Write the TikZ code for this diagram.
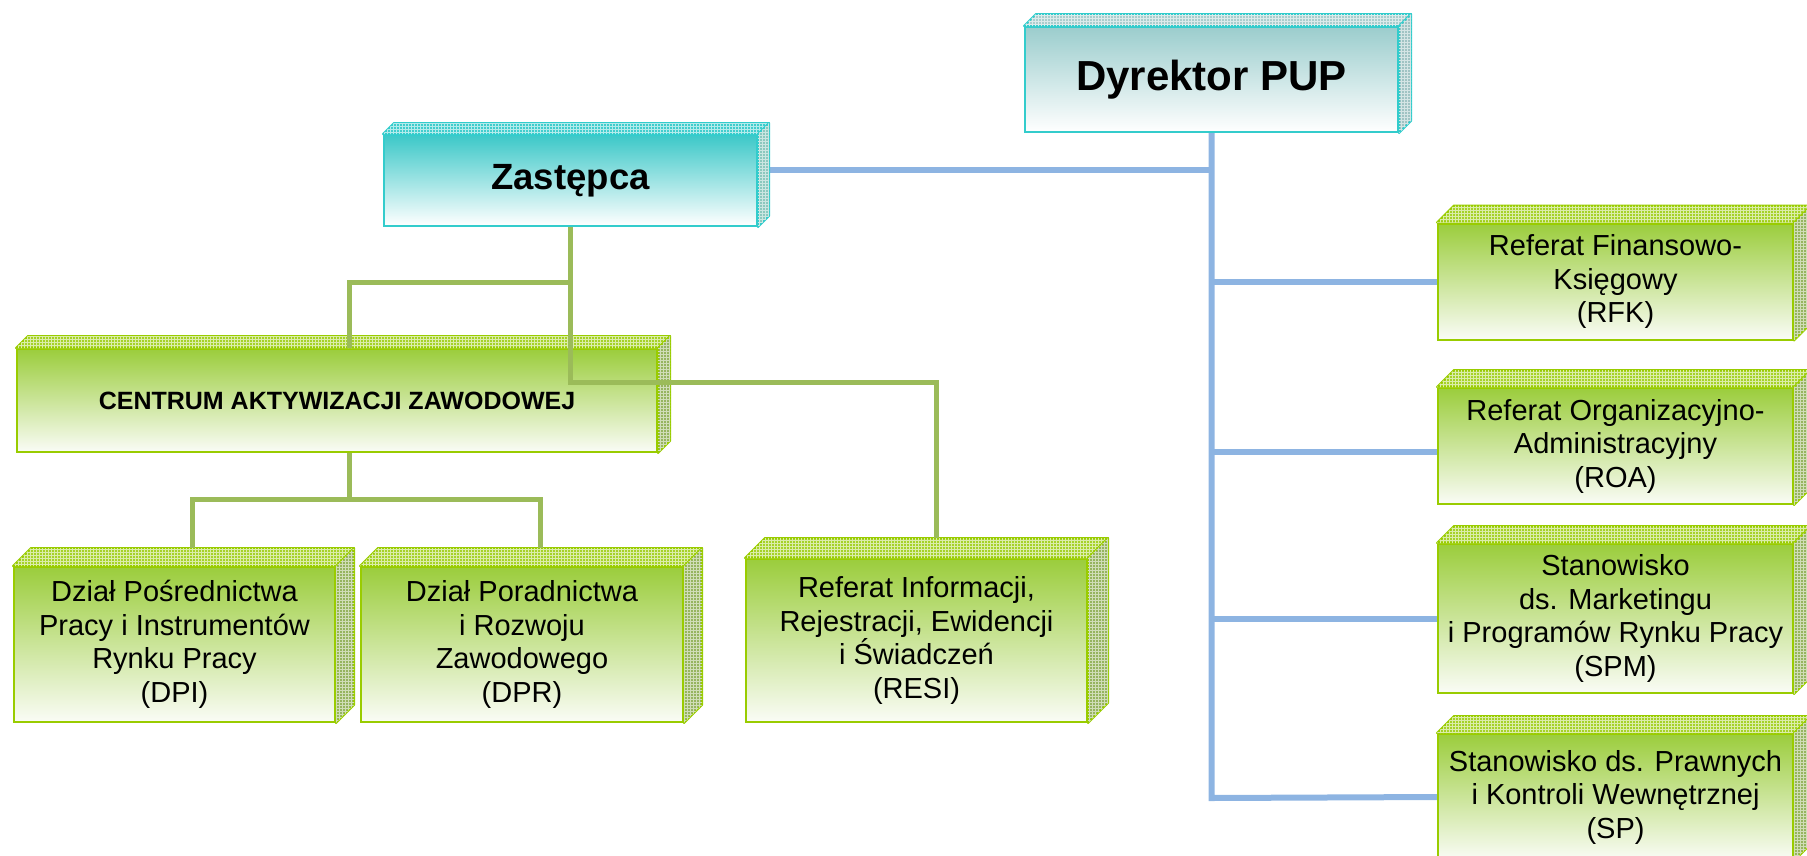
\documentclass[tikz,border=0pt]{standalone}
\usepackage{fontspec}
\setmainfont{Liberation Sans}
\usetikzlibrary{calc,patterns}
\tikzset{every picture/.style={line width=0.75pt}}

\definecolor{grEdge}{RGB}{153,204,0}
\definecolor{grTop}{RGB}{155,205,60}
\definecolor{grBot}{RGB}{250,252,246}
\definecolor{grLid}{RGB}{166,210,40}
\definecolor{grSide}{RGB}{150,180,95}
\definecolor{tqEdge}{RGB}{51,204,204}
\definecolor{tqTop}{RGB}{155,205,205}
\definecolor{tqLid}{RGB}{170,205,205}
\definecolor{tqSide}{RGB}{160,195,195}
\definecolor{zsTop}{RGB}{60,200,200}
\definecolor{zsLid}{RGB}{64,205,205}
\definecolor{zsSide}{RGB}{140,200,190}
\definecolor{linkBlue}{RGB}{141,180,226}
\definecolor{linkGreen}{RGB}{155,187,89}

\pgfdeclarelayer{bg}
\pgfsetlayers{bg,main}

% lid and side of a box: node, depth, edge, lid colour, side colour
\newcommand{\boxside}[5]{%
  \filldraw[draw=#3, fill=#4, line width=2pt, line join=round]
    (#1.north west) -- ++(#2,-#2) -- ($(#1.north east)+(#2,-#2)$) -- (#1.north east) -- cycle;
  \fill[pattern=grid, pattern color=white!60!#4]
    (#1.north west) -- ++(#2,-#2) -- ($(#1.north east)+(#2,-#2)$) -- (#1.north east) -- cycle;
  \filldraw[draw=#3, fill=#5, line width=2pt, line join=round]
    (#1.north east) -- ++(#2,-#2) -- ($(#1.south east)+(#2,-#2)$) -- (#1.south east) -- cycle;
  \fill[pattern=grid, pattern color=white!55!#5]
    (#1.north east) -- ++(#2,-#2) -- ($(#1.south east)+(#2,-#2)$) -- (#1.south east) -- cycle;
  \coordinate (#1-back) at ($(#1.north)+(#2,-#2)$);
}

\begin{document}
\begin{tikzpicture}[x=1pt,y=-1pt,
  gbox/.style={draw=grEdge, line width=2pt, top color=grTop, bottom color=grBot,
    inner sep=0pt, align=center, font=\fontsize{29}{33.5}\selectfont},
  tbox/.style={draw=tqEdge, line width=2pt, top color=tqTop, bottom color=white,
    inner sep=0pt, align=center, font=\bfseries\fontsize{42}{48}\selectfont},
  blline/.style={draw=linkBlue, line width=6pt},
  grline/.style={draw=linkGreen, line width=5pt}]
\useasboundingbox (0,0) rectangle (1807,855);

% Director and deputy
\node[tbox, minimum width=373pt, minimum height=105pt] (dyr) at (1211.5,79.5) {Dyrektor PUP};
\boxside{dyr}{12}{tqEdge}{tqLid}{tqSide}
\node[tbox, top color=zsTop, minimum width=373pt, minimum height=91pt,
  font=\bfseries\fontsize{36.5}{42}\selectfont] (zast) at (570.5,180.5) {Zastępca};
\boxside{zast}{11}{tqEdge}{zsLid}{zsSide}

% Centre
\node[gbox, minimum width=640pt, minimum height=103pt,
  font=\bfseries\fontsize{25}{29}\selectfont] (caz) at (337,400.5) {CENTRUM AKTYWIZACJI ZAWODOWEJ};
\boxside{caz}{12}{grEdge}{grLid}{grSide}

% Departments
\node[gbox, minimum width=321pt, minimum height=155pt] (dpi) at (174.5,644.5)
  {Dział Pośrednictwa\\Pracy i Instrumentów\\Rynku Pracy\\(DPI)};
\boxside{dpi}{18}{grEdge}{grLid}{grSide}
\node[gbox, minimum width=322pt, minimum height=155pt] (dpr) at (522,644.5)
  {Dział Poradnictwa\\i Rozwoju\\Zawodowego\\(DPR)};
\boxside{dpr}{18}{grEdge}{grLid}{grSide}
\node[gbox, minimum width=341pt, minimum height=163pt] (resi) at (916.5,640.5)
  {Referat Informacji,\\Rejestracji, Ewidencji\\i Świadczeń\\(RESI)};
\boxside{resi}{20}{grEdge}{grLid}{grSide}

% Right column
\node[gbox, minimum width=355pt, minimum height=116pt] (rfk) at (1615.5,281.5)
  {Referat Finansowo-\\Księgowy\\(RFK)};
\boxside{rfk}{17}{grEdge}{grLid}{grSide}
\node[gbox, minimum width=355pt, minimum height=116pt] (roa) at (1615.5,446)
  {Referat Organizacyjno-\\Administracyjny\\(ROA)};
\boxside{roa}{17}{grEdge}{grLid}{grSide}
\node[gbox, minimum width=355pt, minimum height=149pt] (spm) at (1615.5,618.5)
  {Stanowisko\\ds. Marketingu\\i Programów Rynku Pracy\\(SPM)};
\boxside{spm}{17}{grEdge}{grLid}{grSide}
\node[gbox, minimum width=355pt, minimum height=126pt] (sp) at (1615.5,797)
  {Stanowisko ds. Prawnych\\i Kontroli Wewnętrznej\\(SP)};
\boxside{sp}{17}{grEdge}{grLid}{grSide}

% Connectors
\coordinate (trunk) at (dyr.south |- 0,798);
\coordinate (zj1) at (zast.south |- 0,282);
\coordinate (zj2) at (zast.south |- 0,382);
\coordinate (cj) at (caz-back |- 0,499);
\begin{pgfonlayer}{bg}
\draw[blline] (dyr.south) -- (trunk) -- (sp.west);
\draw[blline] ([yshift=11pt]zast.east) -- ([yshift=11pt]zast.east -| trunk);
\draw[blline] (rfk.west -| trunk) -- (rfk.west);
\draw[blline] ([yshift=-6pt]roa.west -| trunk) -- ([yshift=-6pt]roa.west);
\draw[blline] (spm.west -| trunk) -- (spm.west);
\end{pgfonlayer}
\draw[grline] (zast.south) -- (zj1) -| (caz-back |- caz.north);
\draw[grline] (zj1) -- (zj2) -| (resi-back);
\draw[grline] (caz.south -| caz-back) -- (cj) -| (dpi-back);
\draw[grline] (cj) -| (dpr-back);

\end{tikzpicture}
\end{document}
